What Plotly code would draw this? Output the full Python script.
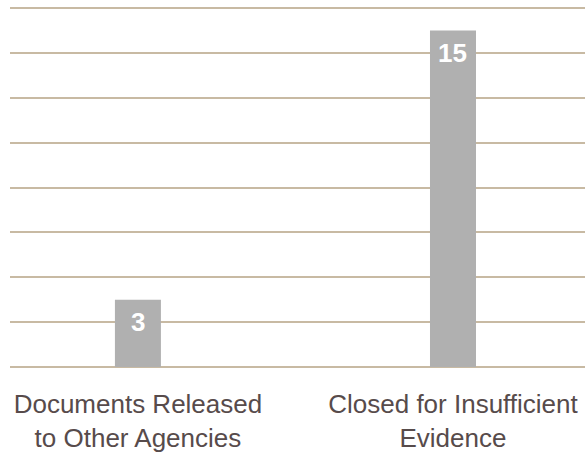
import plotly.graph_objects as go

categories = ["Documents Released<br>to Other Agencies", "Closed for Insufficient<br>Evidence"]
values = [3, 15]
value_labels = ["3", "15"]

fig = go.Figure()
fig.add_trace(go.Bar(
    x=categories, y=values, width=0.146,
    marker=dict(color="#b0b0b0", line=dict(width=0)),
    hoverinfo="skip",
))

for c, v, t in zip(categories, values, value_labels):
    fig.add_annotation(x=c, y=v, text="<b>%s</b>" % t, showarrow=False,
                       yanchor="top", yshift=-5,
                       font=dict(family="Liberation Sans, Arial, sans-serif", size=26, color="white"))

fig.update_layout(
    width=585, height=453,
    margin=dict(l=10, r=0, t=7, b=86, autoexpand=False),
    paper_bgcolor="white", plot_bgcolor="white",
    showlegend=False,
    font=dict(family="Liberation Sans, Arial, sans-serif", color="#574b4b"),
    xaxis=dict(range=[-0.406, 1.419], showgrid=False, showline=False, ticks="",
               automargin=False, ticklabelstandoff=19,
               tickfont=dict(size=26, color="#574b4b")),
    yaxis=dict(range=[0, 16.05], tickvals=[0, 2, 4, 6, 8, 10, 12, 14, 16],
               showticklabels=False, showgrid=True, automargin=False,
               gridcolor="#c8baa3", gridwidth=2, zeroline=True,
               zerolinecolor="#c8baa3", zerolinewidth=2, showline=False),
)

fig.write_html("out.html",
               config={"displayModeBar": False},
               post_script="document.body.style.margin='0';document.body.style.overflow='hidden';")
